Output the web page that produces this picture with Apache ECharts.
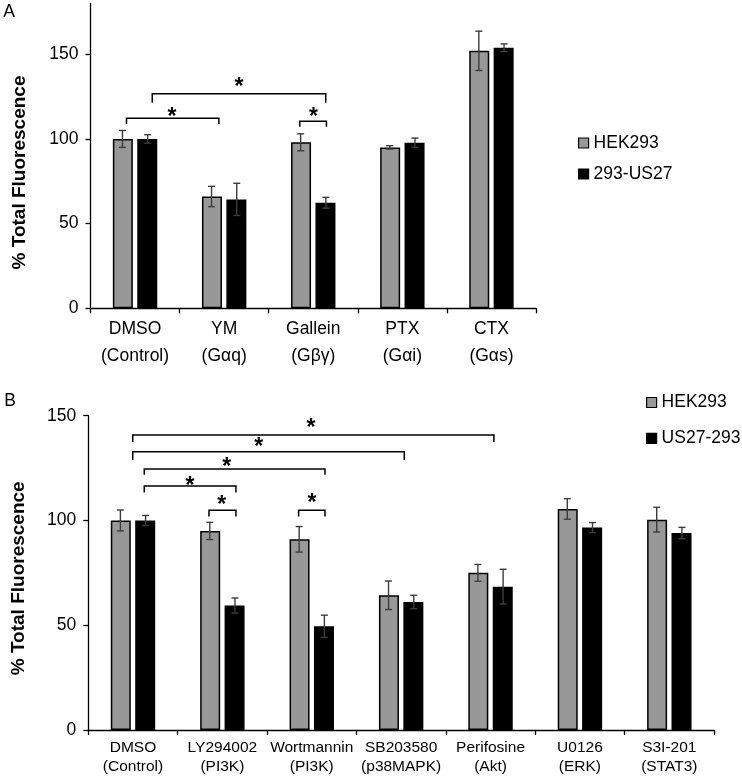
<!DOCTYPE html>
<html><head><meta charset="utf-8">
<script src="https://cdn.jsdelivr.net/npm/echarts@6/dist/echarts.min.js"></script>
<style>html,body{margin:0;padding:0;background:#fff}#c{width:742px;height:778px}</style>
</head><body><div id="c"></div>
<script>
// ---------- Panel A data ----------
const catsA = ['DMSO\n(Control)', 'YM\n(Gαq)', 'Gallein\n(Gβγ)', 'PTX\n(Gαi)', 'CTX\n(Gαs)'];
const hekA = [100, 66, 98, 95, 152];
const hekErrA = [5, 6, 5, 1, 11.6];
const us27A = [100, 64.3, 62.3, 97.8, 153.8];
const us27ErrA = [2.5, 9.5, 3.2, 2.7, 2.3];
const yTicksA = [0, 50, 100, 150];
// brackets: [xStart, xEnd, yLine, yLegEnd, xStar, yStar] (x in category units)
const bracketsA = [
  [-0.096, 0.941, 112.2, 108.8, 0.414, 115.5],
  [0.193, 2.140, 126.7, 121.4, 1.165, 133.0],
  [1.849, 2.148, 110.4, 107.2, 2.002, 115.5]
];
// ---------- Panel B data ----------
const catsB = ['DMSO\n(Control)', 'LY294002\n(PI3K)', 'Wortmannin\n(PI3K)', 'SB203580\n(p38MAPK)', 'Perifosine\n(Akt)', 'U0126\n(ERK)', 'S3I-201\n(STAT3)'];
const hekB = [100, 95, 91, 64.3, 75, 105.5, 100.4];
const hekErrB = [5, 4.1, 6.1, 6.8, 4, 4.9, 5.9];
const us27B = [100, 59.4, 49.5, 61.1, 68.4, 96.6, 94];
const us27ErrB = [2.4, 3.6, 5.3, 3.2, 8.3, 2.4, 2.7];
const yTicksB = [0, 50, 100, 150];
const bracketsB = [
  [-0.003, 4.038, 140.8, 137.4, 1.99, 146.0],
  [-0.003, 3.035, 132.8, 128.9, 1.406, 136.8],
  [0.126, 2.148, 124.6, 121.8, 1.048, 127.3],
  [0.126, 1.152, 116.5, 113.4, 0.638, 118.5],
  [0.85, 1.152, 104.9, 101.9, 0.992, 109.4],
  [1.853, 2.148, 104.9, 101.9, 2.002, 110.1]
];
const seriesNamesA = ['HEK293', '293-US27'];
const seriesNamesB = ['HEK293', 'US27-293'];

const FONT = "'Liberation Sans', Arial, sans-serif";
const GRAY = '#989898';
const BLACK = '#000000';
const ERR = '#3c3c3c';
const BAR_W = 20;
const BAR_GAP = '22%';
const ERR_SHIFT = 12.6;
const STAR_FS = 23;

function errRender(side) {
  return function (params, api) {
    const i = api.value(0), v = api.value(1), e = api.value(2);
    const top = api.coord([i, v + e]);
    const bot = api.coord([i, v - e]);
    const x = top[0] + side * ERR_SHIFT;
    const st = { stroke: ERR, lineWidth: 1.4 };
    return {
      type: 'group',
      children: [
        { type: 'line', shape: { x1: x, y1: top[1], x2: x, y2: bot[1] }, style: st },
        { type: 'line', shape: { x1: x - 3.5, y1: top[1], x2: x + 3.5, y2: top[1] }, style: st },
        { type: 'line', shape: { x1: x - 3.5, y1: bot[1], x2: x + 3.5, y2: bot[1] }, style: st }
      ]
    };
  };
}
function bracketRender(params, api) {
  const x1v = api.value(0), x2v = api.value(1), yl = api.value(2), yleg = api.value(3), xs = api.value(4), ys = api.value(5);
  const base = api.coord([0, yl]);
  const cw = api.size([1, 0])[0];
  const x0 = base[0];
  const X = (c) => x0 + c * cw;
  const Y = (v) => api.coord([0, v])[1];
  const yL = Y(yl), yG = Y(yleg);
  return {
    type: 'group',
    children: [
      { type: 'polyline', shape: { points: [[X(x1v), yG], [X(x1v), yL], [X(x2v), yL], [X(x2v), yG]] },
        style: { stroke: '#000', lineWidth: 1.5, fill: null } },
      { type: 'text', x: X(xs), y: Y(ys) + 0.2 * STAR_FS,
        style: { text: '*', font: 'bold ' + STAR_FS + 'px ' + FONT, fill: '#000', align: 'center', verticalAlign: 'middle' } }
    ]
  };
}

const chart = echarts.init(document.getElementById('c'), null, { renderer: 'canvas' });

function xAxisCfg(cats, gi, fs, lh, margin) {
  return {
    type: 'category', gridIndex: gi, data: cats,
    axisLine: { lineStyle: { color: '#000', width: 1.3 } },
    axisTick: { show: true, length: 5, lineStyle: { color: '#000', width: 1.3 } },
    axisLabel: { color: '#000', fontSize: fs, fontFamily: FONT, lineHeight: lh, margin: margin, interval: 0 },
    splitLine: { show: false }
  };
}
function yAxisCfg(gi, max, ticks) {
  return {
    type: 'value', gridIndex: gi, min: 0, max: max, interval: 50,
    axisLine: { show: true, lineStyle: { color: '#000', width: 1.3 } },
    axisTick: { show: true, length: 5, customValues: ticks, lineStyle: { color: '#000', width: 1.3 } },
    axisLabel: { color: '#000', fontSize: 17.5, fontFamily: FONT, margin: 12, customValues: ticks },
    splitLine: { show: false }
  };
}
function legendItem(name, left, top) {
  return {
    data: [name], left: left, top: top, padding: 0, orient: 'vertical',
    itemWidth: 10, itemHeight: 10, icon: 'rect', selectedMode: false,
    textStyle: { color: '#000', fontSize: 17.5, fontFamily: FONT },
    itemStyle: { borderColor: '#000', borderWidth: 1.2 }
  };
}

const option = {
  animation: false,
  backgroundColor: '#fff',
  grid: [
    { left: 90.5, top: 3.4, width: 445.5, height: 304.9 },
    { left: 88.3, top: 415.7, width: 625.7, height: 314.3 }
  ],
  xAxis: [xAxisCfg(catsA, 0, 17.5, 26.7, 8), xAxisCfg(catsB, 1, 15.5, 18.3, 9)],
  yAxis: [yAxisCfg(0, 180, yTicksA), yAxisCfg(1, 150, yTicksB)],
  legend: [
    legendItem(seriesNamesA[0], 578, 134),
    legendItem(seriesNamesA[1], 578, 165),
    legendItem(seriesNamesB[0], 646, 393.5),
    legendItem(seriesNamesB[1], 646, 429.3)
  ],
  graphic: [
    { type: 'text', x: 9, y: 12, style: { text: 'A', font: '17.5px ' + FONT, fill: '#000', align: 'center', verticalAlign: 'middle' } },
    { type: 'text', x: 10, y: 401.5, style: { text: 'B', font: '17.5px ' + FONT, fill: '#000', align: 'center', verticalAlign: 'middle' } },
    { type: 'text', x: 19.5, y: 172.5, rotation: Math.PI / 2, style: { text: '% Total Fluorescence', font: 'bold 19px ' + FONT, fill: '#000', align: 'center', verticalAlign: 'middle' } },
    { type: 'text', x: 19, y: 578.3, rotation: Math.PI / 2, style: { text: '% Total Fluorescence', font: 'bold 19px ' + FONT, fill: '#000', align: 'center', verticalAlign: 'middle' } }
  ],
  series: [
    { name: seriesNamesA[0], type: 'bar', xAxisIndex: 0, yAxisIndex: 0, data: hekA, barWidth: BAR_W, barGap: BAR_GAP,
      itemStyle: { color: GRAY, borderColor: '#000', borderWidth: 1.5 } },
    { name: seriesNamesA[1], type: 'bar', xAxisIndex: 0, yAxisIndex: 0, data: us27A, barWidth: BAR_W, barGap: BAR_GAP,
      itemStyle: { color: BLACK, borderColor: '#000', borderWidth: 1.5 } },
    { type: 'custom', xAxisIndex: 0, yAxisIndex: 0, renderItem: errRender(-1), data: hekA.map((v, i) => [i, v, hekErrA[i]]), z: 5 },
    { type: 'custom', xAxisIndex: 0, yAxisIndex: 0, renderItem: errRender(1), data: us27A.map((v, i) => [i, v, us27ErrA[i]]), z: 5 },
    { type: 'custom', xAxisIndex: 0, yAxisIndex: 0, renderItem: bracketRender, data: bracketsA, z: 6 },

    { name: seriesNamesB[0], type: 'bar', xAxisIndex: 1, yAxisIndex: 1, data: hekB, barWidth: BAR_W, barGap: BAR_GAP,
      itemStyle: { color: GRAY, borderColor: '#000', borderWidth: 1.5 } },
    { name: seriesNamesB[1], type: 'bar', xAxisIndex: 1, yAxisIndex: 1, data: us27B, barWidth: BAR_W, barGap: BAR_GAP,
      itemStyle: { color: BLACK, borderColor: '#000', borderWidth: 1.5 } },
    { type: 'custom', xAxisIndex: 1, yAxisIndex: 1, renderItem: errRender(-1), data: hekB.map((v, i) => [i, v, hekErrB[i]]), z: 5 },
    { type: 'custom', xAxisIndex: 1, yAxisIndex: 1, renderItem: errRender(1), data: us27B.map((v, i) => [i, v, us27ErrB[i]]), z: 5 },
    { type: 'custom', xAxisIndex: 1, yAxisIndex: 1, renderItem: bracketRender, data: bracketsB, z: 6 }
  ]
};
chart.setOption(option);
</script></body></html>
